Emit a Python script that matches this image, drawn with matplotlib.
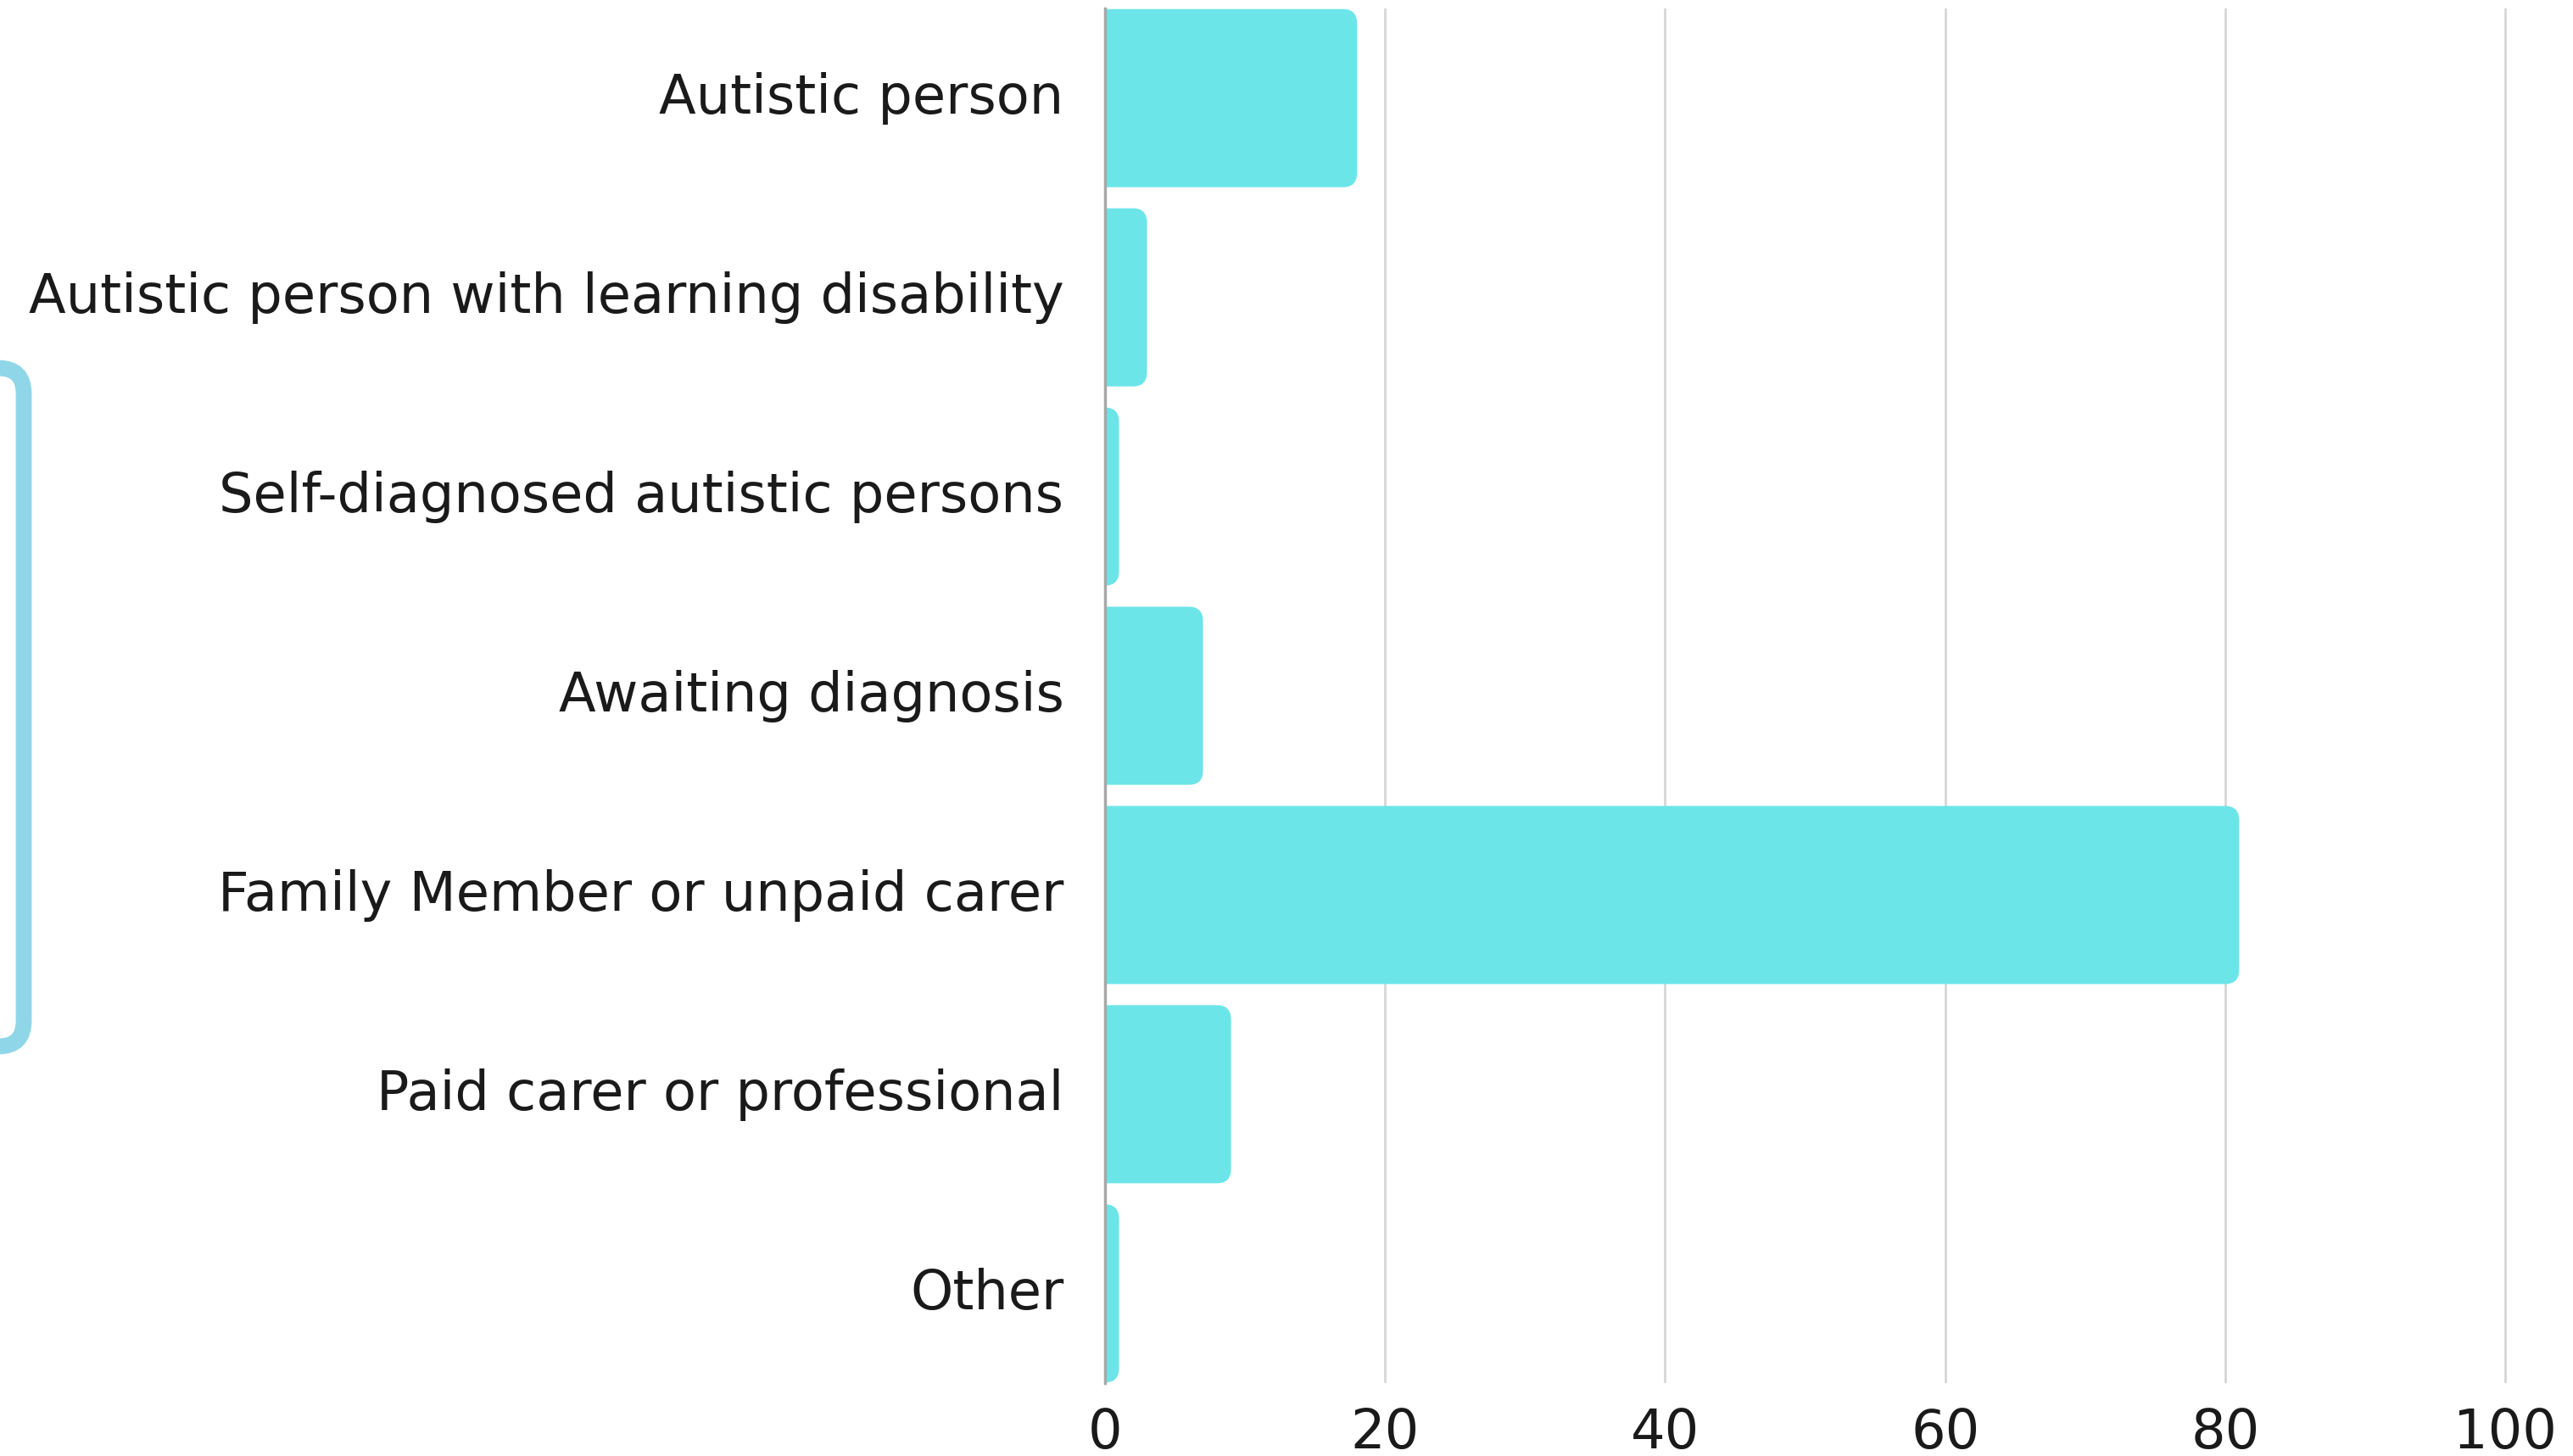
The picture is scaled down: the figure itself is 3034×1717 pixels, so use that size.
import matplotlib.pyplot as plt
import matplotlib.transforms as mtransforms
from matplotlib.path import Path
from matplotlib.patches import PathPatch, FancyBboxPatch

# respondent groups and counts
categorias = ["Autistic person",
              "Autistic person with learning disability",
              "Self-diagnosed autistic persons",
              "Awaiting diagnosis",
              "Family Member or unpaid carer",
              "Paid carer or professional",
              "Other"]
valores = [18, 3, 1, 7, 81, 9, 1]
ticks_x = [0, 20, 40, 60, 80, 100]

COLOR_BARRA = "#6ce5e9"
COLOR_MARCO = "#8fd6e8"

plt.rcParams['font.family'] = ['DejaVu Sans']

fig = plt.figure(figsize=(30.34, 17.17), dpi=100)
ax = fig.add_axes([1303 / 3034, 1 - 1631 / 1717, (2959 - 1303) / 3034, (1631 - 10) / 1717])

pos = list(range(len(categorias)))
barras = ax.barh(pos, valores, height=0.894, color=COLOR_BARRA)

# un poco de margen a la derecha para que la línea de 100 no quede cortada
ax.set_xlim(0, 100.3)
ax.set_ylim(len(categorias) - 1 + 0.45, -0.45)

# barras con esquinas redondeadas solo a la derecha
rx_base = 1.0      # unidades de x (~17 px)
ry = 0.072         # unidades de y (~17 px)
for b in barras:
    x0, y0 = b.get_x(), b.get_y()
    w, h = b.get_width(), b.get_height()
    y1 = y0 + h
    rx = min(rx_base, w)
    verts = [(x0, y0), (x0 + w - rx, y0), (x0 + w, y0), (x0 + w, y0 + ry),
             (x0 + w, y1 - ry), (x0 + w, y1), (x0 + w - rx, y1), (x0, y1), (x0, y0)]
    codes = [Path.MOVETO, Path.LINETO, Path.CURVE3, Path.CURVE3,
             Path.LINETO, Path.CURVE3, Path.CURVE3, Path.LINETO, Path.CLOSEPOLY]
    ax.add_patch(PathPatch(Path(verts, codes), facecolor=COLOR_BARRA,
                           edgecolor="none", zorder=3))
    b.set_visible(False)

ax.set_yticks(pos)
ax.set_yticklabels(categorias)
ax.set_xticks(ticks_x)
ax.tick_params(axis='y', length=0, pad=35, labelsize=46, labelcolor="#1a1a1a")
ax.tick_params(axis='x', length=0, pad=20, labelsize=46, labelcolor="#1a1a1a")

# subir un poco las etiquetas de categoría
subir = mtransforms.ScaledTranslation(0, 0.06, fig.dpi_scale_trans)
for etiqueta in ax.get_yticklabels():
    etiqueta.set_transform(etiqueta.get_transform() + subir)

ax.grid(axis='x', color="#d6d6d6", linewidth=2)
ax.set_axisbelow(True)
for lado in ["top", "right", "bottom"]:
    ax.spines[lado].set_visible(False)
ax.spines["left"].set_color("#a8a8a8")
ax.spines["left"].set_linewidth(2.5)
ax.spines["left"].set_zorder(4)

# marco decorativo en el borde izquierdo
marco = FancyBboxPatch((-300, 1717 - 1234), 328, 800,
                       boxstyle="round,pad=0,rounding_size=30",
                       transform=None, facecolor="none",
                       edgecolor=COLOR_MARCO, linewidth=13.5)
fig.patches.append(marco)

fig.savefig("out.png", dpi=100, facecolor="white")
